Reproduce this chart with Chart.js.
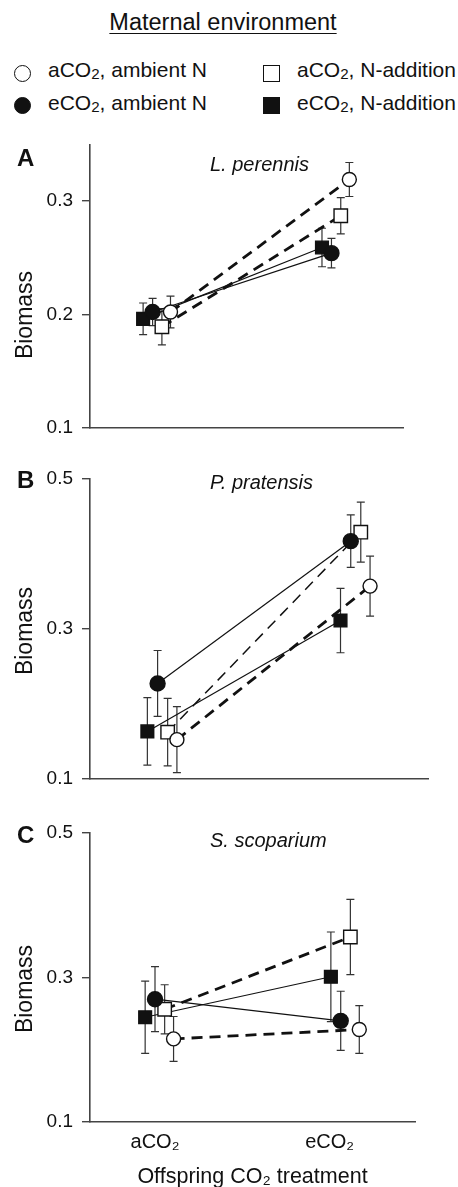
<!DOCTYPE html>
<html>
<head>
<meta charset="utf-8">
<script src="https://cdn.jsdelivr.net/npm/chart.js@4"></script>
<style>
  body { margin: 0; background: #fff; font-family: "Liberation Sans", Arial, sans-serif; color: #111; }
  #wrap { position: relative; width: 458px; height: 1187px; overflow: hidden; }
  #head { position: absolute; left: 0; top: 8px; width: 446px; text-align: center; font-size: 23.5px; line-height: 28px; text-decoration: underline; text-underline-offset: 3px; text-decoration-thickness: 1px; }
  .leg { position: absolute; font-size: 21px; line-height: 24px; white-space: nowrap; }
  .leg sub { font-size: 0.72em; vertical-align: -0.12em; line-height: 0; }
  .mk { position: absolute; box-sizing: border-box; border: 1.6px solid #111; }
  canvas { position: absolute; left: 0; }
</style>
</head>
<body>
<div id="wrap">
  <div id="head">Maternal environment</div>
  <div id="legend"></div>
  <canvas id="panelA" width="458" height="324" style="top:124px"></canvas>
  <canvas id="panelB" width="458" height="359" style="top:440px"></canvas>
  <canvas id="panelC" width="458" height="400" style="top:790px"></canvas>
</div>
<script>
// offspring treatment (x categories) and maternal environment (series)
const categories = ['aCO₂', 'eCO₂'];
const seriesNames = ['aCO₂, ambient N', 'eCO₂, ambient N', 'aCO₂, N-addition', 'eCO₂, N-addition'];

// means and error bars, one row per series (order of seriesNames)
const lperennisMean = [[0.202, 0.319], [0.202, 0.254], [0.189, 0.287], [0.196, 0.259]];
const lperennisErr  = [[0.014, 0.015], [0.012, 0.013], [0.016, 0.016], [0.014, 0.017]];

const ppratensisMean = [[0.152, 0.357], [0.227, 0.417], [0.162, 0.429], [0.163, 0.311]];
const ppratensisErr  = [[0.044, 0.040], [0.044, 0.035], [0.045, 0.040], [0.045, 0.043]];

const sscopariumMean = [[0.215, 0.228], [0.270, 0.240], [0.256, 0.356], [0.245, 0.301]];
const sscopariumErr  = [[0.031, 0.033], [0.045, 0.041], [0.034, 0.052], [0.050, 0.062]];

const yTicksA = [0.1, 0.2, 0.3];
const yTicksBC = [0.1, 0.3, 0.5];

// marker / line look per series
const seriesStyle = [
  { shape: 'circle', fill: '#fff', dash: [11, 7], width: 2.8, r: 7 },
  { shape: 'circle', fill: '#111', dash: [], width: 1.2, r: 7.5 },
  { shape: 'rect', fill: '#fff', dash: [11, 7], width: 2.8, r: 9.5 },
  { shape: 'rect', fill: '#111', dash: [], width: 1.2, r: 9 },
];
const dodge = [0.1, 0, 0.052, -0.053];
const xTickAt = [1, 1.94];
const FONT = '"Liberation Sans", Arial, sans-serif';

// html legend built from the series
function buildLegend() {
  const box = document.getElementById('legend');
  seriesNames.forEach((name, i) => {
    const col = i < 2 ? 0 : 1, row = i % 2;
    const st = seriesStyle[i];
    const mk = document.createElement('div');
    mk.className = 'mk';
    const size = 17;
    const cx = col ? 271 : 22, cy = row ? 105 : 73;
    mk.style.left = (cx - size / 2) + 'px';
    mk.style.top = (cy - size / 2) + 'px';
    mk.style.width = size + 'px';
    mk.style.height = size + 'px';
    mk.style.background = st.fill;
    if (st.shape === 'circle') mk.style.borderRadius = '50%';
    box.appendChild(mk);
    const t = document.createElement('div');
    t.className = 'leg';
    t.style.left = (col ? 297 : 48) + 'px';
    t.style.top = (row ? 91 : 58) + 'px';
    t.innerHTML = name.replace('₂', '<sub>2</sub>');
    box.appendChild(t);
  });
}

const errorBars = {
  id: 'errorBars',
  beforeDatasetsDraw(chart) {
    const ctx = chart.ctx;
    const y = chart.scales.y;
    ctx.save();
    ctx.strokeStyle = '#333';
    ctx.lineWidth = 1.2;
    chart.data.datasets.forEach((ds, i) => {
      const meta = chart.getDatasetMeta(i);
      meta.data.forEach((pt, j) => {
        const v = ds.data[j].y, e = ds.err[j];
        const top = y.getPixelForValue(v + e), bot = y.getPixelForValue(v - e);
        ctx.beginPath();
        ctx.moveTo(pt.x, top); ctx.lineTo(pt.x, bot);
        ctx.moveTo(pt.x - 4, top); ctx.lineTo(pt.x + 4, top);
        ctx.moveTo(pt.x - 4, bot); ctx.lineTo(pt.x + 4, bot);
        ctx.stroke();
      });
    });
    ctx.restore();
  }
};

const panelText = {
  id: 'panelText',
  afterDraw(chart, args, o) {
    const ctx = chart.ctx;
    ctx.save();
    ctx.fillStyle = '#111';
    ctx.textAlign = 'left';
    ctx.textBaseline = 'alphabetic';
    ctx.font = 'bold 24px ' + FONT;
    ctx.fillText(o.letter, 17, o.letterBase);
    ctx.font = 'italic 20px ' + FONT;
    ctx.fillText(o.species, 210, o.speciesBase);
    ctx.translate(32, o.titleMid);
    ctx.rotate(-Math.PI / 2);
    ctx.textAlign = 'center';
    ctx.font = '23px ' + FONT;
    ctx.fillText('Biomass', 0, 0);
    ctx.restore();
  }
};

function makePanel(id, means, errs, yMax, yTicks, p) {
  const datasets = seriesNames.map((name, i) => {
    const st = seriesStyle[i];
    return {
      label: name,
      data: categories.map((c, j) => ({ x: j + 1 + dodge[i], y: means[i][j] })),
      err: errs[i],
      showLine: true,
      borderColor: '#111',
      borderWidth: (p.lineWidths || [])[i] || st.width,
      borderDash: st.dash,
      pointStyle: st.shape,
      pointRadius: st.r,
      pointBackgroundColor: st.fill,
      pointBorderColor: '#111',
      pointBorderWidth: 1.4,
      clip: false,
    };
  });
  new Chart(document.getElementById(id), {
    type: 'scatter',
    data: { datasets },
    options: {
      responsive: false,
      animation: false,
      layout: { padding: { top: p.padTop, right: p.padRight, bottom: p.padBottom, left: 0 } },
      plugins: { legend: { display: false }, tooltip: { enabled: false }, panelText: p.text },
      scales: {
        x: {
          type: 'linear', min: 0.65, max: 2.4,
          grid: { display: false, drawTicks: false },
          border: { display: true, color: '#444', width: 1.6 },
          afterFit: s => { s.height = p.xHeight; },
          afterBuildTicks: s => { s.ticks = xTickAt.map(v => ({ value: v })); },
          ticks: {
            display: p.xLabels,
            padding: 8,
            color: '#111',
            font: { family: FONT, size: 20 },
            callback: (v, i) => categories[i],
          },
          title: {
            display: p.xLabels,
            text: 'Offspring CO₂ treatment',
            color: '#111',
            font: { family: FONT, size: 21.5 },
            padding: { top: 0, bottom: 0 },
          },
        },
        y: {
          min: 0.1, max: yMax,
          afterFit: s => { s.width = 90; },
          afterBuildTicks: s => { s.ticks = yTicks.map(v => ({ value: v })); },
          grid: { drawOnChartArea: false, drawTicks: true, tickLength: 8, color: '#444', lineWidth: 1.4 },
          border: { display: true, color: '#444', width: 1.6 },
          ticks: {
            padding: 9,
            color: '#111',
            font: { family: FONT, size: 19 },
            callback: v => v.toFixed(1),
          },
        },
      },
    },
    plugins: [errorBars, panelText],
  });
}

buildLegend();

makePanel('panelA', lperennisMean, lperennisErr, 0.35, yTicksA, {
  padTop: 13, padRight: 55, padBottom: 13, xHeight: 0, xLabels: false,
  text: { letter: 'A', letterBase: 42, species: 'L. perennis', speciesBase: 47, titleMid: 191 },
});

makePanel('panelB', ppratensisMean, ppratensisErr, 0.5, yTicksBC, {
  padTop: 39, padRight: 30, padBottom: 12, xHeight: 0, xLabels: false,
  lineWidths: [2.8, 0, 1.5, 0],
  text: { letter: 'B', letterBase: 48, species: 'P. pratensis', speciesBase: 49, titleMid: 191 },
});

makePanel('panelC', sscopariumMean, sscopariumErr, 0.5, yTicksBC, {
  padTop: 43, padRight: 43, padBottom: 0, xHeight: 68, xLabels: true,
  text: { letter: 'C', letterBase: 53, species: 'S. scoparium', speciesBase: 57, titleMid: 199 },
});
</script>
</body>
</html>
